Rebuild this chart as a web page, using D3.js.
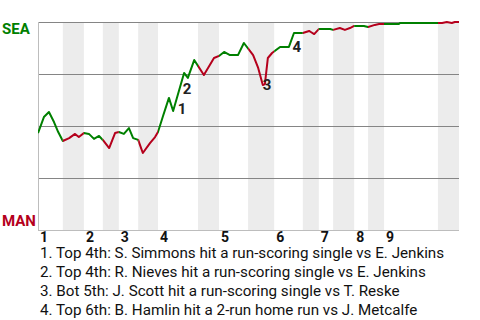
<!DOCTYPE html>
<html>
<head>
<meta charset="utf-8">
<script src="https://cdn.jsdelivr.net/npm/d3@7"></script>
<style>
  body { margin: 0; background: #fff; }
  svg { display: block; font-family: Roboto, "Noto Sans", sans-serif; }
</style>
</head>
<body>
<div id="chart"></div>
<script>
// Game progress (0-100) where each half inning starts / ends
const halfInnings = [0, 5.9, 10.9, 15.4, 19.2, 23.8, 28.5, 38.0, 43.0, 49.9, 56.1, 62.9, 66.7, 70.1, 75.1, 78.4, 82.2, 95.0, 100];
const inningLabels = ["1", "2", "3", "4", "5", "6", "7", "8", "9"];

// SEA win probability (%) along the game
const progress = [0, 1.4, 2.6, 3.8, 4.8, 5.9, 7.4, 8.8, 9.7, 10.9, 12.1, 13.3, 14.5, 15.4, 16.9, 18.3, 19.2,
    20.4, 21.6, 22.6, 23.8, 24.9, 26.6, 27.8, 28.5, 29.7, 31.1, 32.1, 34.7, 35.6, 37.1, 39.4, 41.8, 43.0,
    44.2, 45.6, 47.5, 48.9, 51.1, 52.3, 53.4, 53.9, 54.6, 55.6, 57.5, 59.6, 60.8, 62.9, 64.4, 64.8, 65.6,
    66.7, 69.4, 70.1, 71.7, 72.9, 74.1, 75.1, 77.4, 78.4, 80.0, 81.0, 82.2, 85.7, 86.0, 95.0, 96.0, 97.1,
    98.3, 99.0, 100];
const winProb = [46.6, 54.3, 56.7, 51.9, 47.1, 42.8, 44.2, 46.2, 44.7, 46.6, 46.2, 43.8, 45.2, 43.3, 39.4, 46.6, 47.1,
    46.2, 49.0, 44.2, 43.3, 37.0, 41.8, 44.7, 47.1, 54.8, 63.5, 57.2, 75.5, 73.1, 81.7, 74.5, 82.7, 83.7,
    85.6, 84.1, 84.1, 89.9, 84.1, 77.9, 69.7, 70.2, 82.7, 85.1, 88.0, 88.0, 94.7, 94.7, 95.7, 95.2, 94.2,
    96.6, 96.6, 96.2, 97.1, 96.2, 97.1, 98.1, 98.1, 97.6, 98.6, 99.0, 99.0, 99.0, 99.5, 99.5, 99.5, 100,
    99.5, 100, 100];

// Key plays: label, position (progress, win prob)
const markers = ["1", "2", "3", "4"];
const markerX = [34.2, 35.4, 54.4, 61.5];
const markerY = [58.2, 67.8, 69.7, 88.0];

const notes = [
    "1. Top 4th: S. Simmons hit a run-scoring single vs E. Jenkins",
    "2. Top 4th: R. Nieves hit a run-scoring single vs E. Jenkins",
    "3. Bot 5th: J. Scott hit a run-scoring single vs T. Reske",
    "4. Top 6th: B. Hamlin hit a 2-run home run vs J. Metcalfe",
];

const width = 480, height = 320;
const margin = { top: 22, right: 21, bottom: 90, left: 38 };
const green = "#008000", red = "#b5001c";

const svg = d3.select("#chart").append("svg")
    .attr("width", width)
    .attr("height", height);

const x = d3.scaleLinear().domain([0, 100]).range([margin.left, width - margin.right]);
const y = d3.scaleLinear().domain([0, 100]).range([height - margin.bottom, margin.top]);

// Shade bottom halves
const halves = d3.range(halfInnings.length - 1).map(i => ({
    i, x0: halfInnings[i], x1: halfInnings[i + 1], top: i % 2 === 0,
}));

svg.append("g")
    .selectAll("rect")
    .data(halves.filter(d => !d.top))
    .join("rect")
    .attr("x", d => x(d.x0))
    .attr("width", d => x(d.x1) - x(d.x0))
    .attr("y", y(100))
    .attr("height", y(0) - y(100))
    .attr("fill", "#ececec");

// Grid lines
svg.append("g")
    .selectAll("line")
    .data([100, 75, 50, 25])
    .join("line")
    .attr("x1", x(0))
    .attr("x2", x(100))
    .attr("y1", d => y(d) + 0.5)
    .attr("y2", d => y(d) + 0.5)
    .attr("stroke", "#858585")
    .attr("stroke-width", 1);

svg.append("line")
    .attr("x1", x(0)).attr("x2", x(100))
    .attr("y1", y(0) + 0.5).attr("y2", y(0) + 0.5)
    .attr("stroke", "#bdbdbd");
svg.append("line")
    .attr("x1", x(0) + 0.5).attr("x2", x(0) + 0.5)
    .attr("y1", y(100)).attr("y2", y(0))
    .attr("stroke", "#bdbdbd");

// Clip per half inning so the line changes colour with the batting team
const defs = svg.append("defs");
halves.forEach(d => {
    defs.append("clipPath")
        .attr("id", `half-${d.i}`)
        .append("rect")
        .attr("x", x(d.x0))
        .attr("width", x(d.x1) - x(d.x0))
        .attr("y", 0)
        .attr("height", height);
});

const points = progress.map((p, i) => [p, winProb[i]]);
const line = d3.line()
    .x(d => x(d[0]))
    .y(d => y(d[1]));

svg.append("g")
    .selectAll("path")
    .data(halves)
    .join("path")
    .attr("d", line(points))
    .attr("clip-path", d => `url(#half-${d.i})`)
    .attr("fill", "none")
    .attr("stroke", d => d.top ? green : red)
    .attr("stroke-width", 2)
    .attr("stroke-linejoin", "round");

// Play markers
svg.append("g")
    .selectAll("text")
    .data(markers)
    .join("text")
    .attr("x", (d, i) => x(markerX[i]))
    .attr("y", (d, i) => y(markerY[i]))
    .attr("text-anchor", "middle")
    .attr("dominant-baseline", "central")
    .attr("font-size", "15px")
    .attr("font-weight", "bold")
    .attr("fill", "#222")
    .text(d => d);

// Team labels
svg.append("text")
    .attr("x", 2).attr("y", 34)
    .attr("font-size", "15px").attr("font-weight", "bold")
    .attr("fill", green)
    .text("SEA");
svg.append("text")
    .attr("x", 2).attr("y", 226)
    .attr("font-size", "15px").attr("font-weight", "bold")
    .attr("fill", red)
    .text("MAN");

// Inning numbers at the start of each top half
svg.append("g")
    .selectAll("text")
    .data(inningLabels)
    .join("text")
    .attr("x", (d, i) => x(halfInnings[i * 2]) + 2)
    .attr("y", 242)
    .attr("font-size", "14px")
    .attr("font-weight", "bold")
    .attr("fill", "#111")
    .text(d => d);

// Notes below the chart
svg.append("g")
    .selectAll("text")
    .data(notes)
    .join("text")
    .attr("x", 40)
    .attr("y", (d, i) => 258 + i * 19.1)
    .attr("font-size", "15.2px")
    .attr("fill", "#111")
    .text(d => d);
</script>
</body>
</html>
